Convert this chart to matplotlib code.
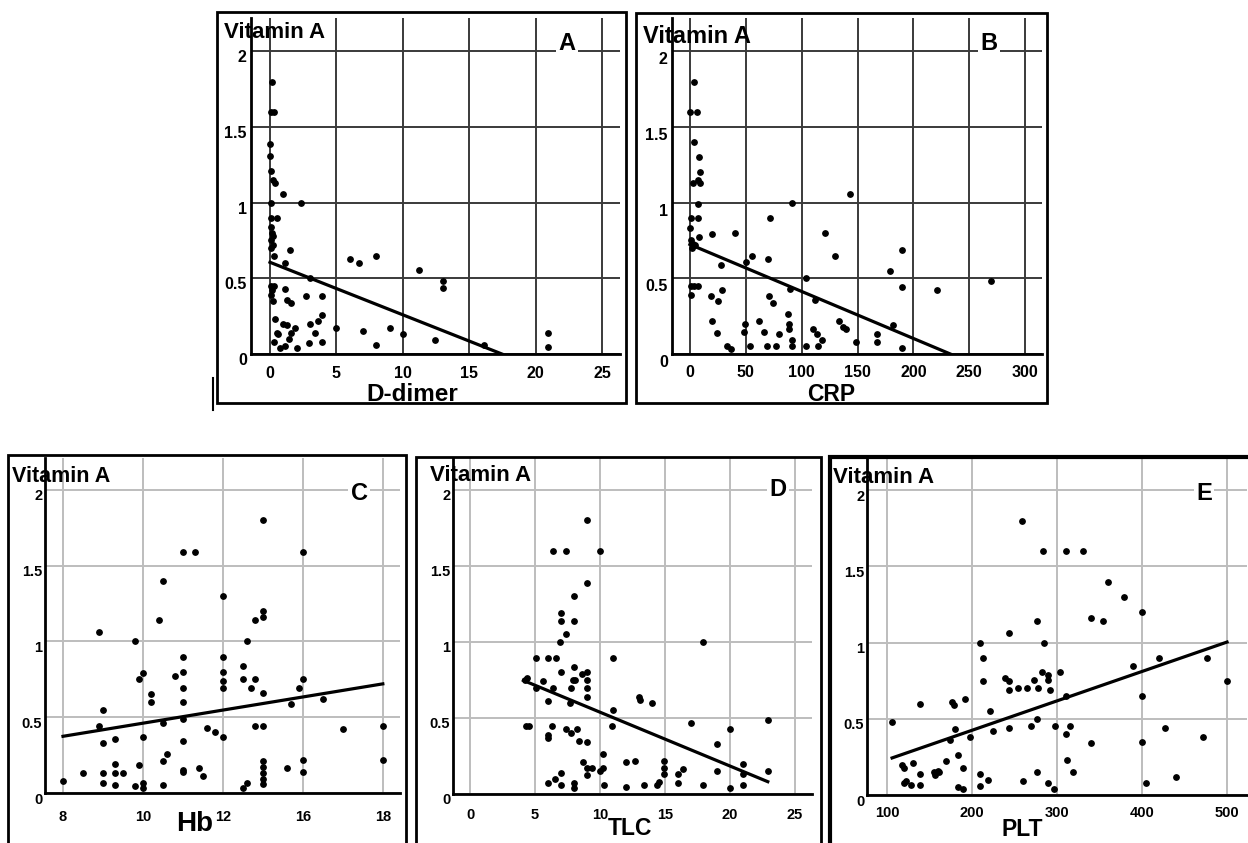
import matplotlib.pyplot as plt
from matplotlib.lines import Line2D
from matplotlib.patches import Rectangle
from matplotlib.transforms import ScaledTranslation

W, H = 1248, 843

plt.rcParams['font.family'] = ['Liberation Sans', 'DejaVu Sans']

# Panel A: D-dimer vs Vitamin A
a_x = [0.18, 0.1, 0.3, 0.0, 0.0, 0.1, 0.2, 0.35, 1.0, 2.3, 0.1, 0.1, 0.5, 0.05, 0.15,
       0.2, 0.1, 0.25, 0.05, 0.3, 1.5, 1.1, 3.0, 6.0, 6.7, 8.0, 11.2, 13.0, 13.0, 0.1,
       0.3, 0.15, 0.1, 0.2, 1.1, 1.25, 1.6, 2.7, 3.9, 0.4, 1.0, 1.25, 3.0, 3.6, 3.9,
       3.4, 0.5, 0.6, 1.9, 1.6, 1.4, 5.0, 7.0, 9.0, 10.0, 12.4, 8.0, 3.9, 2.9, 0.3,
       0.75, 1.1, 2.0, 20.9, 20.9, 16.1]
a_y = [1.80, 1.60, 1.60, 1.39, 1.31, 1.21, 1.15, 1.13, 1.06, 1.0, 1.0, 0.9, 0.9, 0.84, 0.8,
       0.78, 0.75, 0.72, 0.7, 0.65, 0.69, 0.60, 0.50, 0.63, 0.60, 0.645, 0.553, 0.485, 0.434, 0.45,
       0.45, 0.42, 0.39, 0.35, 0.43, 0.36, 0.34, 0.38, 0.38, 0.23, 0.20, 0.19, 0.20, 0.22, 0.26,
       0.14, 0.14, 0.13, 0.17, 0.14, 0.10, 0.17, 0.15, 0.17, 0.13, 0.09, 0.06, 0.08, 0.07, 0.08,
       0.04, 0.05, 0.04, 0.14, 0.045, 0.06]
a_fit_x = [0, 17.46]
a_fit_y = [0.606, 0.0]

# Panel B: CRP vs Vitamin A
b_x = [3.9, 0, 6, 3.9, 8.1, 9, 7.5, 3, 9, 7.5, 1, 7.5, 0, 1, 3, 5, 8, 2, 20, 40,
       72, 91, 143, 121, 130, 56, 50, 28, 70, 104, 90, 1, 4, 7, 1, 18.5, 29, 25.5, 71, 74,
       112, 179, 190, 190, 221, 269, 20, 24.5, 33, 37, 48, 49, 54, 62, 66, 69, 77, 80, 88, 89,
       89, 91, 91, 104, 110, 114, 118, 115, 133, 137, 140, 149, 167, 167, 190, 182]
b_y = [1.80, 1.60, 1.60, 1.40, 1.30, 1.20, 1.15, 1.13, 1.13, 0.99, 0.90, 0.90, 0.835, 0.75, 0.73,
       0.72, 0.77, 0.70, 0.79, 0.80, 0.90, 1.0, 1.06, 0.80, 0.65, 0.65, 0.61, 0.59, 0.625, 0.50,
       0.43, 0.45, 0.45, 0.45, 0.39, 0.38, 0.42, 0.35, 0.38, 0.34, 0.355, 0.55, 0.69, 0.44, 0.425,
       0.48, 0.22, 0.14, 0.055, 0.035, 0.145, 0.20, 0.05, 0.22, 0.145, 0.055, 0.055, 0.13, 0.265, 0.20,
       0.165, 0.09, 0.055, 0.055, 0.165, 0.135, 0.095, 0.055, 0.22, 0.18, 0.165, 0.08, 0.13, 0.08,
       0.04, 0.19]
b_fit_x = [0, 233]
b_fit_y = [0.724, 0.0]

# Panel C: Hb vs Vitamin A (x given as grid position, labels as printed)
c_x = [8, 8.5, 8.9, 9.0, 8.9, 9.0, 9.0, 9.0, 9.3, 9.3, 9.3, 9.3, 9.5, 9.8, 9.8, 9.9,
       9.9, 10.0, 10.0, 10.0, 10.0, 10.2, 10.2, 10.4, 10.5, 10.5, 10.5, 10.6, 10.5, 10.8,
       11.0, 11.3, 11, 11, 11, 11, 11, 11, 11, 11, 11.4, 11.5, 11.6, 11.8, 12, 12, 12, 12,
       12, 12, 12.5, 12.5, 12.6, 12.5, 12.6, 12.7, 12.8, 12.8, 13, 13, 13, 12.8, 13, 13, 13,
       13, 13, 13, 13, 13.6, 13.7, 13.9, 14, 14, 14, 14, 14.5, 15, 16, 16]
c_y = [0.077, 0.13, 1.06, 0.545, 0.44, 0.33, 0.13, 0.066, 0.356, 0.19, 0.13, 0.055, 0.13, 1.0,
       0.044, 0.187, 0.75, 0.79, 0.37, 0.066, 0.033, 0.65, 0.60, 1.14, 1.40, 0.46, 0.21, 0.26,
       0.055, 0.77, 1.59, 1.59, 0.9, 0.8, 0.69, 0.60, 0.49, 0.34, 0.15, 0.14, 0.165, 0.115, 0.43,
       0.40, 1.30, 0.9, 0.8, 0.74, 0.69, 0.37, 0.84, 0.75, 1.0, 0.033, 0.066, 0.69, 0.75, 1.14,
       1.16, 1.2, 1.80, 0.44, 0.44, 0.66, 0.21, 0.17, 0.13, 0.09, 0.06, 0.165, 0.59, 0.69, 0.75,
       1.59, 0.22, 0.136, 0.62, 0.42, 0.44, 0.22]
c_fit_x = [8, 16]
c_fit_y = [0.374, 0.72]
c_ticks = [8, 10, 12, 14, 16]
c_ticklabels = ['8', '10', '12', '16', '18']

# Panel D: TLC vs Vitamin A
d_x = [9.0, 6.4, 7.4, 10, 9.0, 8.0, 7.0, 7.0, 8, 7.4, 6.9, 17.9, 5.1, 6.0, 6.6, 11.0, 7.0,
       8, 8.6, 9, 7.9, 8.1, 9, 9, 9, 4.2, 4.4, 5.6, 5.1, 6.4, 7.8, 6.0, 7.7, 11.0, 13.0, 13.1,
       14.0, 17.0, 22.9, 4.3, 4.5, 6.3, 10.9, 6.0, 6.0, 7.4, 7.8, 8.2, 8.4, 9.0, 20, 19, 10.2,
       8.7, 9.0, 9.4, 10, 10.2, 9, 12, 12.7, 14.9, 14.9, 14.9, 16.4, 16, 16, 19, 21, 21, 22.9,
       6.0, 6.5, 7.0, 7.0, 8, 8, 10.3, 12, 13.4, 14.4, 14.5, 17.9, 20, 21]
d_y = [1.80, 1.60, 1.60, 1.60, 1.39, 1.30, 1.19, 1.14, 1.14, 1.05, 1.0, 1.0, 0.895, 0.895,
       0.895, 0.895, 0.80, 0.835, 0.79, 0.80, 0.75, 0.75, 0.75, 0.70, 0.64, 0.75, 0.76, 0.74,
       0.70, 0.70, 0.70, 0.61, 0.60, 0.55, 0.64, 0.62, 0.60, 0.47, 0.49, 0.45, 0.45, 0.45, 0.45,
       0.39, 0.37, 0.43, 0.40, 0.43, 0.35, 0.345, 0.43, 0.33, 0.26, 0.21, 0.17, 0.17, 0.15, 0.17,
       0.125, 0.21, 0.22, 0.22, 0.17, 0.13, 0.165, 0.13, 0.075, 0.15, 0.20, 0.13, 0.15, 0.075,
       0.097, 0.136, 0.06, 0.075, 0.037, 0.06, 0.048, 0.06, 0.06, 0.08, 0.06, 0.037, 0.06]
d_fit_x = [4.1, 22.9]
d_fit_y = [0.747, 0.081]

# Panel E: PLT vs Vitamin A
e_x = [259, 284, 310, 330, 360, 379, 400, 340, 354, 276, 243, 209, 285, 213, 420, 477, 389,
       304, 282, 290, 239, 244, 213, 273, 290, 500, 243, 254, 265, 278, 292, 310, 400, 139, 176,
       179, 192, 221, 106, 277, 180, 225, 244, 269, 298, 310, 315, 427, 198, 472, 340, 400, 174,
       118, 120, 131, 139, 155, 157, 160, 161, 169, 184, 190, 209, 219, 120, 122, 128, 139, 184,
       190, 209, 260, 277, 290, 296, 312, 319, 405, 440]
e_y = [1.80, 1.60, 1.60, 1.60, 1.40, 1.30, 1.20, 1.16, 1.14, 1.14, 1.06, 1.0, 1.0, 0.90, 0.90,
       0.90, 0.845, 0.805, 0.805, 0.79, 0.77, 0.75, 0.75, 0.755, 0.755, 0.75, 0.69, 0.70, 0.70,
       0.70, 0.69, 0.65, 0.65, 0.60, 0.61, 0.59, 0.63, 0.55, 0.48, 0.50, 0.43, 0.42, 0.44, 0.45,
       0.45, 0.40, 0.45, 0.44, 0.38, 0.38, 0.34, 0.35, 0.36, 0.20, 0.175, 0.21, 0.14, 0.15, 0.13,
       0.16, 0.15, 0.225, 0.265, 0.18, 0.14, 0.1, 0.08, 0.09, 0.066, 0.066, 0.055, 0.04, 0.06,
       0.09, 0.15, 0.08, 0.037, 0.23, 0.15, 0.077, 0.12]
e_fit_x = [106, 500]
e_fit_y = [0.243, 1.003]

y_ticks = [0, 0.5, 1, 1.5, 2]
y_ticklabels = ['0', '0.5', '1', '1.5', '2']

fig = plt.figure(figsize=(W / 100, H / 100), dpi=100)


def px_axes(left, right, top, bottom):
    return fig.add_axes([left / W, 1 - bottom / H, (right - left) / W, (bottom - top) / H])


def ptext(x, y, s, **kw):
    fig.text(x / W, 1 - y / H, s, **kw)


def frame(x0, y0, x1, y1, lw=2.0):
    fig.add_artist(Rectangle((x0 / W, 1 - y1 / H), (x1 - x0) / W, (y1 - y0) / H,
                             transform=fig.transFigure, fill=False, ec='black', lw=lw))


def panel(ax, x, y, fx, fy, xticks, xlabels, xlim, ytop, gcol, xpad, ypad, fs, ydrop):
    ax.set_xlim(xlim)
    ax.set_ylim(0, ytop)
    ax.set_xticks(xticks)
    ax.set_xticklabels(xlabels)
    ax.set_yticks(y_ticks)
    ax.set_yticklabels(y_ticklabels)
    ax.tick_params(length=0, labelsize=fs, pad=xpad, axis='x')
    ax.tick_params(length=0, labelsize=fs, pad=ypad, axis='y')
    for lab in ax.get_xticklabels() + ax.get_yticklabels():
        lab.set_fontweight('bold')
    # y labels sit a little below their gridlines in the original
    shift = ScaledTranslation(0, -ydrop / 100, fig.dpi_scale_trans)
    for lab in ax.get_yticklabels():
        lab.set_transform(lab.get_transform() + shift)
    for s in ['top', 'right']:
        ax.spines[s].set_visible(False)
    for s in ['left', 'bottom']:
        ax.spines[s].set_linewidth(2)
    ax.grid(True, color=gcol, lw=1.4)
    ax.set_axisbelow(True)
    ax.patch.set_alpha(0)
    ax.scatter(x, y, s=15, color='black', zorder=3)
    ax.plot(fx, fy, color='black', lw=2.3, zorder=4)


# frames
frame(217, 12, 626, 403)
frame(636, 13, 1047, 403)
frame(8, 455, 406, 850)
frame(416, 457, 821, 850)
frame(830, 457, 1252, 850, lw=3)
fig.add_artist(Line2D([213 / W, 213 / W], [1 - 378 / H, 1 - 410 / H],
                      transform=fig.transFigure, color='black', lw=1.5))

axA = px_axes(251, 620, 18, 354)
panel(axA, a_x, a_y, a_fit_x, a_fit_y, [0, 5, 10, 15, 20, 25],
      ['0', '5', '10', '15', '20', '25'], (-1.43, 26.35), 2.22, '#3a3a3a', 9, 3, 11.5, 5)

axB = px_axes(672, 1042, 18, 354)
panel(axB, b_x, b_y, b_fit_x, b_fit_y, [0, 50, 100, 150, 200, 250, 300],
      ['0', '50', '100', '150', '200', '250', '300'], (-16, 315), 2.22, '#3a3a3a', 8, 3, 11.5, 7)

axC = px_axes(45, 400, 458, 793)
panel(axC, c_x, c_y, c_fit_x, c_fit_y, c_ticks, c_ticklabels,
      (7.55, 16.43), 2.21, '#bdbdbd', 12, 2, 10.5, 5)

axD = px_axes(453, 812, 458, 794)
panel(axD, d_x, d_y, d_fit_x, d_fit_y, [0, 5, 10, 15, 20, 25],
      ['0', '5', '10', '15', '20', '25'], (-1.31, 26.3), 2.21, '#bdbdbd', 10, 2, 10.5, 5)

axE = px_axes(867, 1247, 458, 795)
panel(axE, e_x, e_y, e_fit_x, e_fit_y, [100, 200, 300, 400, 500],
      ['100', '200', '300', '400', '500'], (76.5, 523.5), 2.21, '#bdbdbd', 8, 2, 10.5, 5)

# titles, letters, axis names
for (x, y, fs) in [(224, 38, 16), (643, 43, 17), (12, 482, 15.5), (430, 481, 16), (833, 483, 16)]:
    ptext(x, y, 'Vitamin A', fontsize=fs, fontweight='bold', va='baseline', ha='left')

for (x, y, s) in [(567, 44, 'A'), (989, 44, 'B'), (359, 493, 'C'), (778, 490, 'D'), (1204, 494, 'E')]:
    ptext(x, y, s, fontsize=17, fontweight='bold', ha='center', va='center',
          bbox=dict(facecolor='white', edgecolor='none', pad=1.5))

for (x, y, s, fs) in [(412, 401, 'D-dimer', 17.5), (831, 401, 'CRP', 16.5), (195, 831, 'Hb', 20),
                      (630, 835, 'TLC', 16.5), (1022, 836, 'PLT', 16.5)]:
    ptext(x, y, s, fontsize=fs, fontweight='bold', ha='center', va='baseline')

fig.savefig('out.png', dpi=100)
